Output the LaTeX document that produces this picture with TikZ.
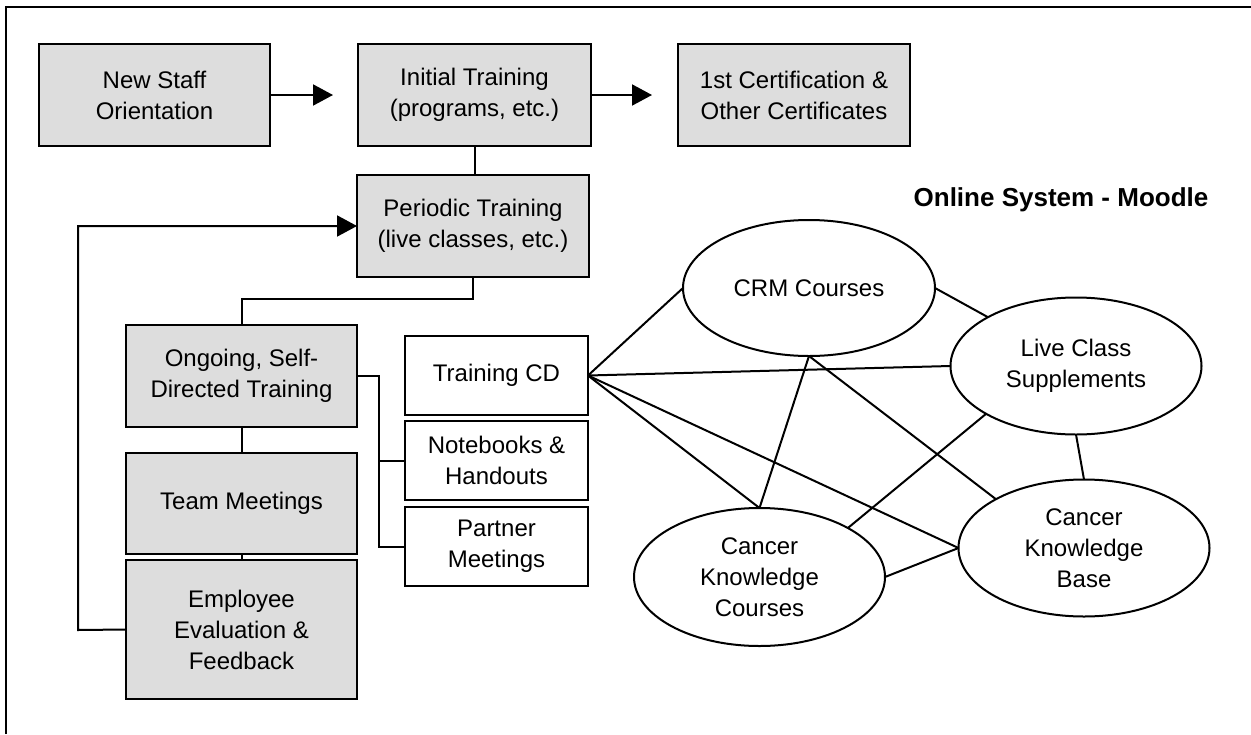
\documentclass[tikz,border=0pt]{standalone}
\usepackage{fontspec}
\setmainfont{Liberation Sans}
\usetikzlibrary{arrows.meta,shapes.geometric}
\definecolor{boxgray}{RGB}{221,221,221}
\begin{document}
\begin{tikzpicture}[x=1pt,y=-1pt,
  every node/.style={font=\fontsize{24}{31}\selectfont, align=center, inner sep=0pt, outer sep=0pt},
  graybox/.style={draw, line width=2pt, fill=boxgray, rectangle, minimum width=231pt, minimum height=102pt},
  whitebox/.style={draw, line width=2pt, fill=white, rectangle, minimum width=183pt, minimum height=79pt},
  oval/.style={draw, line width=2pt, ellipse, minimum width=251pt, minimum height=137pt},
  conn/.style={line width=2pt},
  arr/.style={conn, -{Triangle[length=20pt,width=21pt]}},
  frame/.style={line width=2.5pt}
]
\useasboundingbox (0,0) rectangle (1251,734);
\draw[frame] (6,734) -- (6,7) -- (1251,7);

% gray boxes
\node[graybox] (nso)  at (154.5,95) {New Staff\\Orientation};
\node[graybox, minimum width=233pt] (init) at (474.5,95) {Initial Training\\(programs, etc.)};
\node[graybox, minimum width=232pt] (cert) at (794,95) {1st Certification \&\\Other Certificates};
\node[graybox, minimum width=232pt] (per)  at (473,226) {Periodic Training\\(live classes, etc.)};
\node[graybox] (ong)  at (241.5,376) {Ongoing, Self-\\Directed Training};
\node[graybox, minimum height=101pt] (team) at (241.5,503.5) {Team Meetings};
\node[graybox, minimum height=139pt] (emp)  at (241.5,629.5) {Employee\\Evaluation \&\\Feedback};

% white boxes
\node[whitebox] (tcd) at (496.5,375.5) {Training CD};
\node[whitebox] (nb)  at (496.5,460.5) {Notebooks \&\\Handouts};
\node[whitebox] (pm)  at (496.5,546.5) {Partner\\Meetings};

% title
\node[font=\fontsize{26}{30}\selectfont\bfseries] (title) at (1061,200) {Online System - Moodle};

% ellipses
\node[oval, minimum width=252pt, minimum height=136pt] (crm) at (809,288) {CRM Courses};
\node[oval] (live) at (1076,366) {Live Class\\Supplements};
\node[oval] (ckb)  at (1084,548) {Cancer\\Knowledge\\Base};
\node[oval, minimum height=138pt] (ckc)  at (759.5,577) {Cancer\\Knowledge\\Courses};

% arrows in top row
\coordinate (a1) at (333,95);
\coordinate (a2) at (652,95);
\draw[arr] (nso.east) -- (a1);
\draw[arr] (init.east) -- (a2);

% vertical chain
\draw[conn] (init.south) -- (init.south |- per.north);
\draw[conn] (per.south) -- ++(0,22) -| (ong.north);
\draw[conn] (ong.south) -- (team.north);
\draw[conn] (team.south) -- (emp.north);

% feedback loop
\coordinate (fb) at (78,630);
\draw[arr] (emp.west) -- (fb) |- (per.west);

% bracket to white boxes
\coordinate (bx) at (379,376);
\draw[conn] (ong.east) -- (bx) |- (pm.west);
\draw[conn] (bx |- nb.west) -- (nb.west);

% network
\draw[conn] (tcd.east) -- (crm.west);
\draw[conn] (tcd.east) -- (live.west);
\draw[conn] (tcd.east) -- (ckb.west);
\draw[conn] (tcd.east) -- (ckc.north);
\draw[conn] (crm.south) -- (ckc.north);
\draw[conn] (crm.south) -- (ckb.151);
\draw[conn] (crm.east) -- (live.151);
\draw[conn] (live.south) -- (ckb.north);
\draw[conn] (live.208) -- (ckc.29);
\draw[conn] (ckc.east) -- (ckb.west);
\end{tikzpicture}
\end{document}
